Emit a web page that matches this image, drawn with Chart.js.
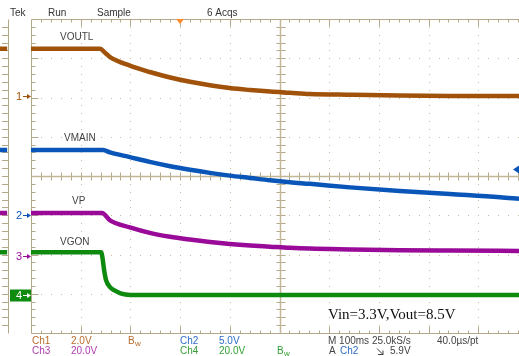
<!DOCTYPE html>
<html>
<head>
<meta charset="utf-8">
<script src="https://cdn.jsdelivr.net/npm/chart.js@4"></script>
<style>
  html, body { margin: 0; padding: 0; background: #fff; }
  canvas { display: block; }
</style>
</head>
<body>
<canvas id="scopeChart" width="519" height="356"></canvas>
<script>
// time in ms (100 ms / div), level in screen divisions from centre
const sliverTime = [-63, -48];

const ch1Time  = [0, 139, 149, 159, 199, 239, 280, 320, 360, 400, 441, 481, 521, 561, 642, 742, 843, 982];
const ch1Level = [3.24, 3.24, 3.14, 3.03, 2.81, 2.65, 2.51, 2.40, 2.31, 2.24, 2.19, 2.15, 2.12, 2.09, 2.07, 2.05, 2.04, 2.04];

const ch2Time  = [0, 145, 159, 199, 239, 280, 320, 360, 400, 441, 481, 521, 561, 642, 742, 843, 944, 982];
const ch2Level = [0.66, 0.66, 0.60, 0.48, 0.36, 0.25, 0.16, 0.08, 0.01, -0.05, -0.11, -0.16, -0.20, -0.29, -0.38, -0.46, -0.54, -0.58];

const ch3Time  = [0, 143, 159, 199, 239, 280, 320, 360, 400, 441, 481, 521, 561, 642, 742, 843, 982];
const ch3Level = [-0.94, -0.94, -1.13, -1.31, -1.45, -1.55, -1.62, -1.68, -1.73, -1.77, -1.80, -1.83, -1.85, -1.87, -1.89, -1.90, -1.91];

const ch4Time  = [0, 141, 144, 147, 151, 159, 169, 180, 200, 982];
const ch4Level = [-1.94, -1.94, -2.10, -2.39, -2.65, -2.83, -2.92, -2.99, -3.03, -3.03];

const traceNames  = ['VOUTL', 'VMAIN', 'VP', 'VGON'];
const traceColors = ['#a0520a', '#0a55b8', '#990a99', '#0e8a0e'];
const groundLevel = [2.04, -1.0, -2.03, -3.03];  // channel marker positions (div)

function buildTrace(times, levels) {
  const pts = sliverTime.map(t => ({ x: t, y: levels[0] }));
  pts.push({ x: -40, y: null });
  times.forEach((t, i) => pts.push({ x: t, y: levels[i] }));
  return pts;
}

const traces = [
  buildTrace(ch1Time, ch1Level),
  buildTrace(ch2Time, ch2Level),
  buildTrace(ch3Time, ch3Level),
  buildTrace(ch4Time, ch4Level)
];

const GRID = '#b3a98a';
const DOT = '#c4bca3';

const scopePlugin = {
  id: 'scopeGrid',
  beforeDatasetsDraw(chart) {
    const ctx = chart.ctx;
    const px = v => chart.scales.x.getPixelForValue(v);
    const py = v => chart.scales.y.getPixelForValue(v);
    const left = Math.round(px(0)) + 0.5, right = 519;
    const top = Math.round(py(4)) + 0.5, bottom = Math.round(py(-4)) + 0.5;
    const cx = Math.round(px(500)) + 0.5, cy = Math.round(py(0)) + 0.5;
    ctx.save();

    // dotted graticule
    ctx.fillStyle = DOT;
    for (let i = 1; i < 10; i++) {
      if (i === 5) continue;
      const gx = Math.round(px(i * 100));
      for (let j = 1; j < 40; j++) ctx.fillRect(gx, Math.round(py(-4 + j * 0.2)), 1, 1);
    }
    for (let j = 1; j < 8; j++) {
      if (j === 4) continue;
      const gy = Math.round(py(j - 4));
      for (let i = 1; i < 50; i++) ctx.fillRect(Math.round(px(i * 20)), gy, 1, 1);
    }

    ctx.strokeStyle = GRID;
    ctx.lineWidth = 1;
    ctx.beginPath();
    // frame
    ctx.moveTo(left, top); ctx.lineTo(right, top);
    ctx.moveTo(left, top); ctx.lineTo(left, bottom);
    ctx.moveTo(left, bottom); ctx.lineTo(right, bottom);
    // left sliver border
    ctx.moveTo(8.5, top); ctx.lineTo(8.5, bottom);
    // ticks on top / bottom edges and centre horizontal
    for (let i = 1; i < 50; i++) {
      const tx = Math.round(px(i * 20)) + 0.5;
      const len = i % 5 === 0 ? 7 : 3;
      ctx.moveTo(tx, top); ctx.lineTo(tx, top + len);
      ctx.moveTo(tx, bottom); ctx.lineTo(tx, bottom - len);
      ctx.moveTo(tx, cy - 4); ctx.lineTo(tx, cy + 4);
    }
    // ticks on left edge, sliver and centre vertical
    for (let j = 1; j < 40; j++) {
      const ty = Math.round(py(-4 + j * 0.2)) + 0.5;
      const len = j % 5 === 0 ? 7 : 4;
      ctx.moveTo(left, ty); ctx.lineTo(left + len, ty);
      ctx.moveTo(2, ty); ctx.lineTo(8.5, ty);
      ctx.moveTo(cx - 4, ty); ctx.lineTo(cx + 5, ty);
    }
    ctx.stroke();

    ctx.lineWidth = 1.5;
    ctx.strokeStyle = '#c0b797';
    ctx.beginPath();
    ctx.moveTo(left, cy); ctx.lineTo(right, cy);
    ctx.moveTo(cx, top); ctx.lineTo(cx, bottom);
    ctx.stroke();
    ctx.restore();
  },
  afterDraw(chart) {
    const ctx = chart.ctx;
    const px = v => chart.scales.x.getPixelForValue(v);
    const py = v => chart.scales.y.getPixelForValue(v);
    ctx.save();
    ctx.textBaseline = 'middle';
    ctx.textAlign = 'left';

    const txt = (s, x, y, color, font) => {
      ctx.font = font || '10px "Liberation Sans", Arial, sans-serif';
      ctx.fillStyle = color;
      ctx.fillText(s, x, y);
    };

    // header
    txt('Tek', 10, 13.5, '#333');
    txt('Run', 48, 13.5, '#333');
    txt('Sample', 97, 13.5, '#333');
    txt('6 Acqs', 207, 13.5, '#333');

    // trigger position marker
    ctx.fillStyle = '#ff8a2a';
    const trgX = px(300);
    ctx.beginPath();
    ctx.moveTo(trgX - 4, 19); ctx.lineTo(trgX + 4, 19); ctx.lineTo(trgX, 24); ctx.closePath();
    ctx.fill();

    // trigger level marker (right edge)
    ctx.fillStyle = traceColors[1];
    ctx.beginPath();
    ctx.moveTo(513, 169.5); ctx.lineTo(519, 165.5); ctx.lineTo(519, 173.5); ctx.closePath();
    ctx.fill();

    // trace names
    const labelFont = '10px "Liberation Sans", Arial, sans-serif';
    txt(traceNames[0], 60, 37, '#444', labelFont);
    txt(traceNames[1], 64, 138, '#444', labelFont);
    txt(traceNames[2], 72, 201, '#444', labelFont);
    txt(traceNames[3], 60, 242, '#444', labelFont);

    // channel ground markers
    const arrow = (y, color) => {
      ctx.strokeStyle = color; ctx.fillStyle = color; ctx.lineWidth = 1;
      ctx.beginPath(); ctx.moveTo(23, y); ctx.lineTo(29, y); ctx.stroke();
      ctx.beginPath(); ctx.moveTo(31, y); ctx.lineTo(27, y - 2.5); ctx.lineTo(27, y + 2.5); ctx.closePath(); ctx.fill();
    };
    const markFont = '11px "Liberation Sans", Arial, sans-serif';
    for (let k = 0; k < 3; k++) {
      const y = Math.round(py(groundLevel[k])) + 0.5;
      txt(String(k + 1), 16, y, traceColors[k], markFont);
      arrow(y, traceColors[k]);
    }
    const y4 = Math.round(py(groundLevel[3])) + 0.5;
    ctx.fillStyle = traceColors[3];
    ctx.fillRect(10, y4 - 6, 21, 12);
    txt('4', 16, y4 + 0.5, '#fff', markFont);
    arrow(y4, '#fff');

    // annotation
    txt('Vin=3.3V,Vout=8.5V', 328, 315, '#111', '15px "Liberation Serif", "Times New Roman", serif');

    // footer
    const r1 = 341.5, r2 = 351.5;
    const c1 = '#b86a2c', c2 = '#2e6cc4', c3 = '#b03cb0', c4 = '#35a035';
    txt('Ch1', 32, r1, c1); txt('2.0V', 71, r1, c1);
    txt('B', 128, r1, c1); txt('w', 135, r1 + 2, c1, '8px "Liberation Sans", Arial, sans-serif');
    txt('Ch2', 180, r1, c2); txt('5.0V', 219, r1, c2);
    txt('Ch3', 32, r2, c3); txt('20.0V', 71, r2, c3);
    txt('Ch4', 180, r2, c4); txt('20.0V', 219, r2, c4);
    txt('B', 277, r2, c4); txt('w', 284, r2 + 2, c4, '8px "Liberation Sans", Arial, sans-serif');
    txt('M 100ms 25.0kS/s', 328, r1, '#444');
    txt('40.0\u00b5s/pt', 437, r1, '#444');
    txt('A', 329, r2, '#444');
    txt('Ch2', 340, r2, c2);
    ctx.strokeStyle = '#444'; ctx.lineWidth = 1;
    ctx.beginPath();
    ctx.moveTo(377, 348.5); ctx.lineTo(383, 354.5);
    ctx.moveTo(378, 354.5); ctx.lineTo(383, 354.5); ctx.lineTo(383, 350.5);
    ctx.stroke();
    txt('5.9V', 390, r2, '#444');
    ctx.restore();
  }
};

new Chart(document.getElementById('scopeChart').getContext('2d'), {
  type: 'line',
  data: {
    datasets: traces.map((pts, k) => ({
      label: traceNames[k],
      data: pts,
      borderColor: traceColors[k],
      borderWidth: 4.5,
      pointRadius: 0,
      cubicInterpolationMode: 'monotone',
      spanGaps: false
    }))
  },
  options: {
    responsive: false,
    animation: false,
    devicePixelRatio: 1,
    layout: { padding: { top: 19, bottom: 23, left: 0, right: 0 } },
    plugins: { legend: { display: false }, tooltip: { enabled: false } },
    scales: {
      x: { type: 'linear', min: -62.4, max: 981.9, display: false },
      y: { min: -4, max: 4, display: false }
    }
  },
  plugins: [scopePlugin]
});
</script>
</body>
</html>
